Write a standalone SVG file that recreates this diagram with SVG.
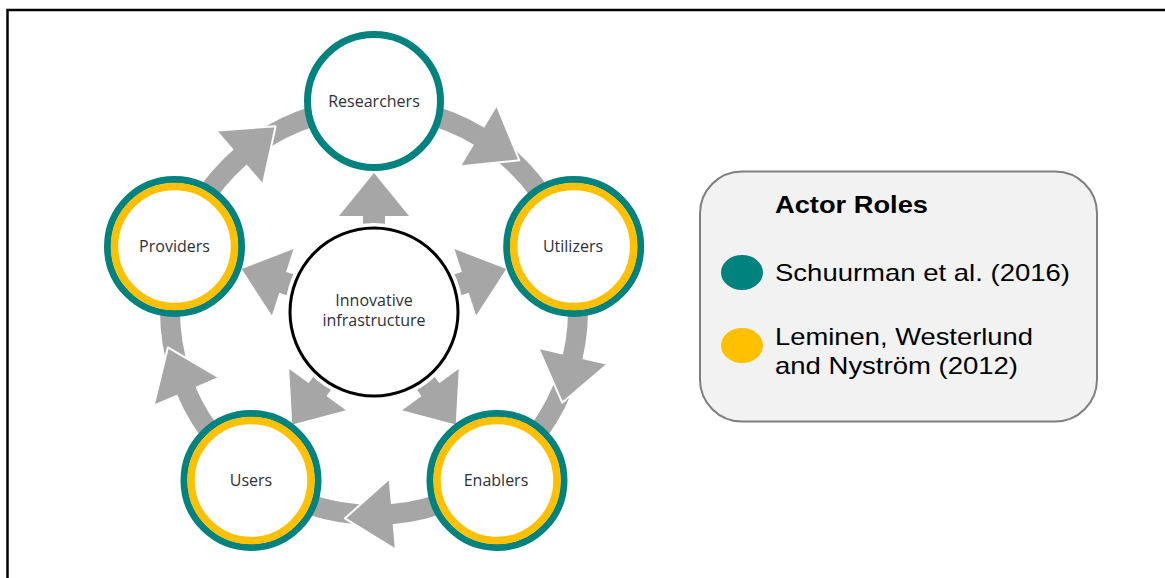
<svg xmlns="http://www.w3.org/2000/svg" xmlns:xlink="http://www.w3.org/1999/xlink" width="1165" height="578" viewBox="0 0 1165 578">
  <style>
    .band { fill: none; stroke: #a6a6a6; stroke-width: 20; }
    .gray { fill: #a6a6a6; }
    .edge { fill: none; stroke: #ffffff; stroke-width: 2; stroke-linejoin: round; }
    .teal { fill: #ffffff; stroke: #00827f; stroke-width: 7; }
    .gold { fill: none; stroke: #ffc000; stroke-width: 7.5; }
    .label { font-family: 'Open Sans', 'DejaVu Sans', sans-serif; font-size: 16px; fill: #2f2f3a; text-anchor: middle; }
    .legend { font-family: 'Liberation Sans', Arial, sans-serif; font-size: 24px; fill: #000000; }
  </style>
  <defs>
    <!-- curved-band arrowhead: base centred on the origin, pointing along +x -->
    <g id="ring-head">
      <polygon class="gray" points="0,-35 47,0 0,35"/>
      <polyline class="edge" points="0,-35 47,0 0,35"/>
    </g>
    <!-- radial arrow from the hub, pointing along +x -->
    <g id="spoke" class="gray">
      <rect x="78" y="-11" width="20" height="22"/>
      <polygon points="96,-35 139,0 96,35"/>
    </g>
  </defs>

  <rect width="1165" height="578" fill="#ffffff"/>
  <!-- frame -->
  <rect x="7.5" y="10" width="1200" height="620" fill="none" stroke="#000000" stroke-width="2.5"/>

  <g id="connectors">
    <!-- cycle: Researchers -> Utilizers -> Enablers -> Users -> Providers -> Researchers -->
    <g id="edge-researchers-utilizers">
      <path class="band" d="M 374 107 A 204 204 0 0 1 568 248"/>
      <use xlink:href="#ring-head" transform="translate(374 311) rotate(-59) translate(204 0) rotate(90)"/>
    </g>
    <g id="edge-utilizers-enablers">
      <path class="band" d="M 568 248 A 204 204 0 0 1 493.9 476"/>
      <use xlink:href="#ring-head" transform="translate(374 311) rotate(13) translate(204 0) rotate(90)"/>
    </g>
    <g id="edge-enablers-users">
      <path class="band" d="M 493.9 476 A 204 204 0 0 1 254.1 476"/>
      <use xlink:href="#ring-head" transform="translate(374 311) rotate(85) translate(204 0) rotate(90)"/>
    </g>
    <g id="edge-users-providers">
      <path class="band" d="M 254.1 476 A 204 204 0 0 1 180 248"/>
      <use xlink:href="#ring-head" transform="translate(374 311) rotate(157) translate(204 0) rotate(90)"/>
    </g>
    <g id="edge-providers-researchers">
      <path class="band" d="M 180 248 A 204 204 0 0 1 374 107"/>
      <use xlink:href="#ring-head" transform="translate(374 311) rotate(229) translate(204 0) rotate(90)"/>
    </g>
    <!-- hub spokes -->
    <use id="edge-hub-researchers" xlink:href="#spoke" transform="translate(374 312) rotate(-90)"/>
    <use id="edge-hub-utilizers" xlink:href="#spoke" transform="translate(374 312) rotate(-18)"/>
    <use id="edge-hub-enablers" xlink:href="#spoke" transform="translate(374 312) rotate(54)"/>
    <use id="edge-hub-users" xlink:href="#spoke" transform="translate(374 312) rotate(126)"/>
    <use id="edge-hub-providers" xlink:href="#spoke" transform="translate(374 312) rotate(198)"/>
  </g>

  <g id="node-hub">
    <circle cx="374" cy="312" r="84" fill="#ffffff" stroke="#ffffff" stroke-width="10"/>
    <circle cx="374" cy="312" r="84" fill="none" stroke="#000000" stroke-width="3"/>
    <text class="label" x="374" y="306">Innovative</text>
    <text class="label" x="374" y="326">infrastructure</text>
  </g>

  <g id="node-researchers">
    <circle class="teal" cx="374" cy="101" r="66.5"/>
    <text class="label" x="374" y="106.5">Researchers</text>
  </g>

  <g id="node-utilizers">
    <circle class="teal" cx="573.7" cy="246.5" r="67"/>
    <circle class="gold" cx="573.7" cy="246.5" r="60"/>
    <text class="label" x="573" y="252">Utilizers</text>
  </g>

  <g id="node-enablers">
    <circle class="teal" cx="497" cy="480.5" r="67"/>
    <circle class="gold" cx="497" cy="480.5" r="60"/>
    <text class="label" x="496" y="486">Enablers</text>
  </g>

  <g id="node-users">
    <circle class="teal" cx="251" cy="480.5" r="67"/>
    <circle class="gold" cx="251" cy="480.5" r="60"/>
    <text class="label" x="251" y="486">Users</text>
  </g>

  <g id="node-providers">
    <circle class="teal" cx="174.5" cy="246.5" r="67"/>
    <circle class="gold" cx="174.5" cy="246.5" r="60"/>
    <text class="label" x="174.5" y="252">Providers</text>
  </g>

  <g id="legend">
    <rect x="700" y="171.5" width="397" height="250" rx="42" ry="42" fill="#f2f2f2" stroke="#7f7f7f" stroke-width="2"/>
    <text class="legend" x="775" y="213" font-weight="bold" textLength="153" lengthAdjust="spacingAndGlyphs">Actor Roles</text>
    <ellipse cx="742" cy="272.5" rx="21" ry="17.5" fill="#00827f"/>
    <text class="legend" x="775" y="281" textLength="295" lengthAdjust="spacingAndGlyphs">Schuurman et al. (2016)</text>
    <ellipse cx="742" cy="345.5" rx="21" ry="17.5" fill="#ffc000"/>
    <text class="legend" x="775" y="345" textLength="258" lengthAdjust="spacingAndGlyphs">Leminen, Westerlund</text>
    <text class="legend" x="775" y="374" textLength="243" lengthAdjust="spacingAndGlyphs">and Nyström (2012)</text>
  </g>
</svg>
